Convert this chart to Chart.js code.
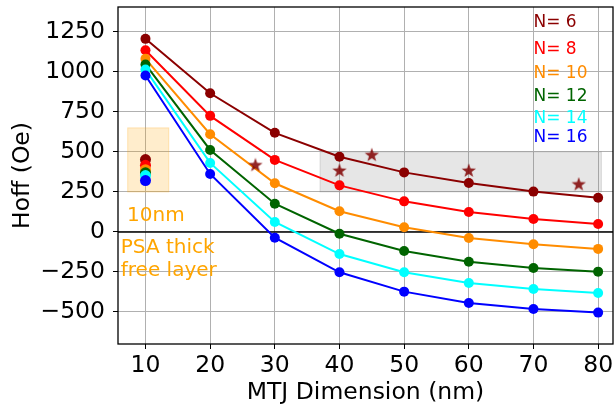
<!DOCTYPE html>
<html><head><meta charset="utf-8">
<script src="https://cdn.jsdelivr.net/npm/chart.js@4.4.1/dist/chart.umd.min.js"></script>
<style>html,body{margin:0;padding:0;background:#fff}</style>
</head><body>
<canvas id="c" width="615" height="410"></canvas>
<script>
// ---- data ----
const dims = [10, 20, 30, 40, 50, 60, 70, 80];
const seriesLabels = ['N= 6', 'N= 8', 'N= 10', 'N= 12', 'N= 14', 'N= 16'];
const hoffN6  = [1206, 866, 619, 470, 372, 306, 252, 214];
const hoffN8  = [1135, 725, 450, 291, 191, 125, 81, 50];
const hoffN10 = [1081, 610, 304, 129, 29, -38, -77, -106];
const hoffN12 = [1046, 512, 176, -11, -119, -186, -225, -248];
const hoffN14 = [1014, 431, 62, -138, -252, -319, -356, -381];
const hoffN16 = [977, 362, -36, -252, -373, -444, -481, -504];
const psaDim = 10;
const psaHoff = [452, 416, 389, 369, 352, 321];
const expDims = [27, 40, 45, 60, 77];
const expHoff = [416, 381, 479, 381, 296];
const xTicks = [10, 20, 30, 40, 50, 60, 70, 80];
const yTicks = [-500, -250, 0, 250, 500, 750, 1000, 1250];
const psaBoxX = [7.25, 13.6], psaBoxY = [250, 650];
const expBoxX = [37, 80.5], expBoxY = [250, 500];
const psaText = ['10nm', 'PSA thick', 'free layer'];

// ---- styles ----
const colors = ['#8B0000', '#FF0000', '#FF8C00', '#006400', '#00FFFF', '#0000FF'];
const allSeries = [hoffN6, hoffN8, hoffN10, hoffN12, hoffN14, hoffN16];
const FONT = 'DejaVu Sans';

function makeStar(size, color) {
  const cv = document.createElement('canvas');
  cv.width = size; cv.height = size;
  const g = cv.getContext('2d');
  const cx = size / 2, cy = size / 2, R = size / 2 - 0.5, r = R * 0.4;
  g.beginPath();
  for (let i = 0; i < 10; i++) {
    const rad = i % 2 === 0 ? R : r;
    const a = -Math.PI / 2 + i * Math.PI / 5;
    const px = cx + rad * Math.cos(a), py = cy + rad * Math.sin(a);
    if (i === 0) g.moveTo(px, py); else g.lineTo(px, py);
  }
  g.closePath();
  g.fillStyle = color; g.fill();
  return cv;
}
const starImg = makeStar(16, 'rgba(128,0,0,0.85)');

const datasets = [];
allSeries.forEach((vals, i) => {
  datasets.push({
    label: seriesLabels[i],
    data: dims.map((d, k) => ({x: d, y: vals[k]})),
    showLine: true, borderColor: colors[i], borderWidth: 2,
    pointRadius: 5, pointBackgroundColor: colors[i], pointBorderWidth: 0,
    order: 20 - i
  });
});
psaHoff.forEach((v, i) => {
  datasets.push({
    label: 'psa ' + seriesLabels[i],
    data: [{x: psaDim, y: v}], showLine: false,
    pointRadius: 5.5, pointBackgroundColor: colors[i], pointBorderWidth: 0,
    order: 10 - i
  });
});
datasets.push({
  label: 'exp', data: expDims.map((d, k) => ({x: d, y: expHoff[k]})),
  showLine: false, pointStyle: starImg, pointRadius: 8, order: 0
});

const yFmt = v => v < 0 ? '\u2212' + Math.abs(v) : String(v);

const decor = {
  id: 'decor',
  beforeDatasetsDraw(chart) {
    const {ctx, scales: {x, y}, chartArea: a} = chart;
    ctx.save();
    const box = (bx, by, fill, stroke) => {
      const x0 = x.getPixelForValue(bx[0]), x1 = x.getPixelForValue(bx[1]);
      const y0 = y.getPixelForValue(by[1]), y1 = y.getPixelForValue(by[0]);
      ctx.fillStyle = fill; ctx.fillRect(x0, y0, x1 - x0, y1 - y0);
      ctx.strokeStyle = stroke; ctx.lineWidth = 1; ctx.strokeRect(x0, y0, x1 - x0, y1 - y0);
    };
    box(psaBoxX, psaBoxY, 'rgba(255,165,0,0.2)', 'rgba(255,165,0,0.25)');
    box(expBoxX, expBoxY, 'rgba(128,128,128,0.2)', 'rgba(128,128,128,0.25)');
    const y0 = y.getPixelForValue(0);
    ctx.strokeStyle = '#000'; ctx.lineWidth = 1.6;
    ctx.beginPath(); ctx.moveTo(a.left, y0); ctx.lineTo(a.right, y0); ctx.stroke();
    ctx.restore();
  },
  afterDatasetsDraw(chart) {
    const {ctx, scales: {x, y}, chartArea: a} = chart;
    ctx.save();
    ctx.strokeStyle = '#000'; ctx.lineWidth = 1.3;
    ctx.strokeRect(a.left, a.top, a.right - a.left, a.bottom - a.top);
    ctx.font = '17px "' + FONT + '"';
    ctx.textAlign = 'left'; ctx.textBaseline = 'middle';
    const lx = x.getPixelForValue(70);
    const ly = [1308, 1139, 989, 845, 708, 589];
    seriesLabels.forEach((t, i) => {
      ctx.fillStyle = colors[i];
      ctx.fillText(t, lx, y.getPixelForValue(ly[i]));
    });
    ctx.font = '20px "' + FONT + '"';
    ctx.fillStyle = '#FFA500';
    ctx.textBaseline = 'alphabetic';
    ctx.fillText(psaText[0], x.getPixelForValue(7.15), y.getPixelForValue(66));
    ctx.fillText(psaText[1], x.getPixelForValue(6.18), y.getPixelForValue(-129));
    ctx.fillText(psaText[2], x.getPixelForValue(6.18), y.getPixelForValue(-277));
    ctx.restore();
  }
};

const tickFont = {family: FONT, size: 23.5};
new Chart(document.getElementById('c'), {
  type: 'scatter',
  data: {datasets},
  options: {
    responsive: false, animation: false, devicePixelRatio: 1,
    layout: {autoPadding: false, padding: {top: 7, right: 2, left: 0, bottom: 0}},
    plugins: {legend: {display: false}, tooltip: {enabled: false}},
    scales: {
      x: {
        type: 'linear', min: 5.75, max: 82.3,
        afterBuildTicks: s => { s.ticks = xTicks.map(v => ({value: v})); },
        afterFit: s => { s.height = 66; s.paddingLeft = 0; s.paddingRight = 0; s.paddingTop = 0; s.paddingBottom = 0; },
        ticks: {font: tickFont, color: '#000', padding: 3, autoSkip: false, maxRotation: 0, callback: v => String(v)},
        grid: {color: '#b0b0b0', lineWidth: 1, tickLength: 5, tickColor: '#000', drawTicks: true},
        border: {display: false},
        title: {display: true, text: 'MTJ Dimension (nm)', font: tickFont, color: '#000', padding: {top: 0, bottom: 3}}
      },
      y: {
        type: 'linear', min: -700, max: 1405,
        afterBuildTicks: s => { s.ticks = yTicks.map(v => ({value: v})); },
        afterFit: s => { s.width = 118; s.paddingLeft = 0; s.paddingRight = 0; s.paddingTop = 0; s.paddingBottom = 0; },
        ticks: {font: tickFont, color: '#000', padding: 8, autoSkip: false, callback: v => yFmt(v)},
        grid: {color: '#b0b0b0', lineWidth: 1, tickLength: 5, tickColor: '#000', drawTicks: true},
        border: {display: false},
        title: {display: true, text: 'Hoff (Oe)', font: tickFont, color: '#000', padding: {top: 9, bottom: 0}}
      }
    }
  },
  plugins: [decor]
});
</script>
</body></html>
